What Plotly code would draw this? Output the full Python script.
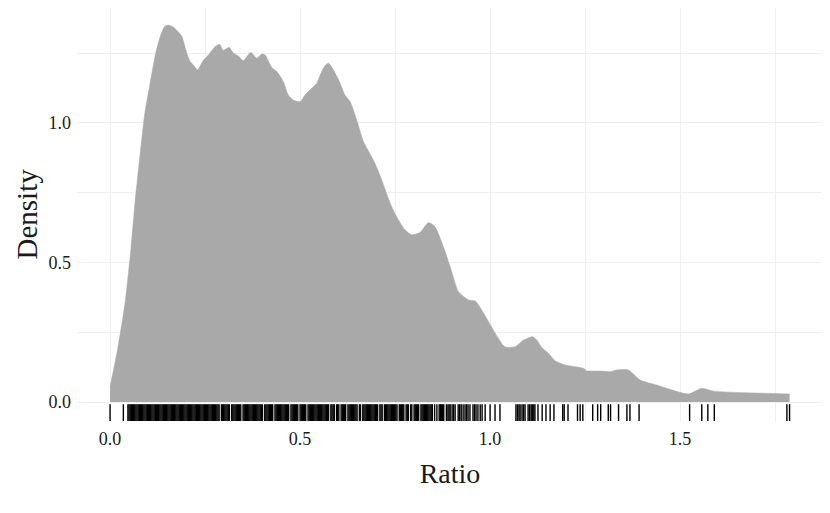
import plotly.graph_objects as go

# Density curve
ratio_x = [0, 0.02, 0.04, 0.055, 0.066, 0.08, 0.092, 0.105, 0.12, 0.132, 0.143, 0.153, 0.165, 0.175,
           0.189, 0.202, 0.211, 0.224, 0.230, 0.246, 0.259, 0.276, 0.288, 0.298, 0.313, 0.325, 0.338,
           0.351, 0.370, 0.386, 0.399, 0.408, 0.425, 0.439, 0.456, 0.469, 0.482, 0.5, 0.513, 0.535,
           0.544, 0.553, 0.565, 0.575, 0.588, 0.603, 0.618, 0.632, 0.649, 0.667, 0.693, 0.711, 0.741,
           0.760, 0.776, 0.794, 0.816, 0.838, 0.855, 0.877, 0.895, 0.917, 0.943, 0.961, 0.978, 0.996,
           1.022, 1.039, 1.066, 1.088, 1.112, 1.123, 1.136, 1.154, 1.171, 1.197, 1.246, 1.254, 1.289,
           1.316, 1.333, 1.364, 1.395, 1.438, 1.522, 1.557, 1.588, 1.788]
density_y = [0.055, 0.19, 0.36, 0.55, 0.72, 0.90, 1.04, 1.14, 1.25, 1.31, 1.345, 1.351, 1.345, 1.333,
             1.31, 1.25, 1.22, 1.20, 1.19, 1.226, 1.244, 1.273, 1.282, 1.26, 1.271, 1.25, 1.24,
             1.223, 1.253, 1.232, 1.247, 1.244, 1.20, 1.184, 1.148, 1.10, 1.082, 1.076, 1.10, 1.13,
             1.142, 1.172, 1.205, 1.214, 1.19, 1.15, 1.10, 1.076, 1.011, 0.933, 0.867, 0.81, 0.70,
             0.65, 0.617, 0.599, 0.608, 0.643, 0.628, 0.557, 0.485, 0.395, 0.366, 0.362, 0.33, 0.288,
             0.228, 0.198, 0.198, 0.222, 0.234, 0.222, 0.195, 0.174, 0.148, 0.133, 0.121, 0.112, 0.111,
             0.109, 0.115, 0.115, 0.079, 0.061, 0.029, 0.049, 0.039, 0.029]

rug_values = [
    0.0, 0.035,
    0.047, 0.050, 0.053, 0.056, 0.059, 0.062, 0.065, 0.068, 0.071, 0.074, 0.077, 0.080, 0.083, 0.086,
    0.089, 0.092, 0.095, 0.098,
    0.101, 0.104, 0.107, 0.110, 0.113, 0.116, 0.119, 0.122, 0.125, 0.128, 0.131, 0.134, 0.137, 0.140,
    0.143, 0.146, 0.149, 0.152, 0.155, 0.158, 0.161, 0.164, 0.167, 0.170, 0.173, 0.176, 0.179, 0.182,
    0.185, 0.188, 0.191, 0.194, 0.197,
    0.200, 0.203, 0.206, 0.209, 0.212, 0.215, 0.218, 0.221, 0.224, 0.227, 0.230, 0.233, 0.236, 0.239,
    0.242, 0.245, 0.248, 0.251, 0.254, 0.257, 0.260, 0.263, 0.266, 0.269, 0.272, 0.275, 0.278, 0.281,
    0.284, 0.287, 0.293, 0.296, 0.299,
    0.302, 0.305, 0.308, 0.311, 0.314, 0.320, 0.323, 0.326, 0.329, 0.332, 0.335, 0.338, 0.341, 0.344,
    0.350, 0.353, 0.356, 0.359, 0.362, 0.365, 0.368, 0.371, 0.374, 0.377, 0.380, 0.383, 0.386, 0.389,
    0.392, 0.395, 0.398,
    0.401, 0.407, 0.410, 0.413, 0.416, 0.419, 0.422, 0.425, 0.428, 0.434, 0.437, 0.440, 0.443, 0.446,
    0.449, 0.452, 0.455, 0.458, 0.461, 0.464, 0.467, 0.470, 0.476, 0.479, 0.482, 0.485, 0.488, 0.491,
    0.494, 0.500,
    0.503, 0.506, 0.509, 0.512, 0.515, 0.521, 0.524, 0.527, 0.530, 0.533, 0.536, 0.539, 0.542, 0.545,
    0.548, 0.551, 0.554, 0.557, 0.560, 0.563, 0.566, 0.569, 0.572, 0.575, 0.581, 0.584, 0.587, 0.590,
    0.596, 0.599,
    0.602, 0.608, 0.611, 0.614, 0.617, 0.620, 0.626, 0.629, 0.632, 0.635, 0.638, 0.641, 0.644, 0.647,
    0.650, 0.656, 0.659, 0.665, 0.668, 0.671, 0.674, 0.677, 0.680, 0.683, 0.686, 0.689, 0.692, 0.695,
    0.698,
    0.701, 0.704, 0.710, 0.713, 0.716, 0.722, 0.725, 0.728, 0.731, 0.734, 0.737, 0.740, 0.743, 0.746,
    0.749, 0.752, 0.755, 0.761, 0.764, 0.767, 0.770, 0.773, 0.779, 0.782, 0.785, 0.791, 0.794, 0.800,
    0.803, 0.806, 0.809, 0.812, 0.818, 0.821, 0.824, 0.827, 0.830, 0.833, 0.836, 0.839, 0.842, 0.845,
    0.848, 0.854, 0.860, 0.866, 0.869, 0.872, 0.875, 0.878,
    0.885, 0.889, 0.892, 0.895, 0.900, 0.904, 0.908, 0.916, 0.920, 0.924, 0.929, 0.934, 0.938, 0.942,
    0.947, 0.955, 0.959, 0.963, 0.968, 0.974, 0.979, 0.987, 1.0, 1.013, 1.026, 1.068, 1.072, 1.076,
    1.079, 1.084, 1.088, 1.092, 1.100, 1.104, 1.108, 1.111, 1.115, 1.118, 1.126, 1.137, 1.147, 1.158,
    1.168, 1.191, 1.195, 1.205, 1.230, 1.237, 1.244, 1.270, 1.283, 1.291, 1.311, 1.317, 1.338, 1.360,
    1.368, 1.392, 1.525, 1.557, 1.573, 1.590, 1.781, 1.788,
]

x_ticks = [0.0, 0.5, 1.0, 1.5]
x_tick_labels = ["0.0", "0.5", "1.0", "1.5"]
y_ticks = [0.0, 0.5, 1.0]
y_tick_labels = ["0.0", "0.5", "1.0"]

FONT = "Liberation Serif"
GRID = "#f0f0f0"

fig = go.Figure()
fig.add_trace(go.Scatter(
    x=ratio_x, y=density_y, mode="lines", fill="tozeroy",
    line=dict(color="#a9a9a9", width=0.5, shape="spline", smoothing=0.6),
    fillcolor="#a9a9a9", hoverinfo="skip", showlegend=False,
))
fig.add_trace(go.Scatter(
    x=rug_values, y=[-0.043] * len(rug_values), mode="markers",
    marker=dict(symbol="line-ns", size=14, line=dict(color="black", width=1.4)),
    hoverinfo="x", showlegend=False,
))

# page has an 8px body margin, so the figure is offset by 8px
L, R = 69, 7
W = 822
fig.update_layout(
    width=W, height=505,
    margin=dict(l=L, r=R, t=0, b=92),
    paper_bgcolor="white", plot_bgcolor="white",
    font=dict(family=FONT, color="#1a1a1a", size=18),
    annotations=[dict(
        text="Density", textangle=-90, xref="paper", yref="paper",
        x=-L / (W - L - R), y=0.5, xanchor="left", yanchor="middle",
        showarrow=False, font=dict(size=29, family=FONT, color="#1a1a1a"),
    )],
)
fig.update_xaxes(
    range=[-0.087, 1.876], tickvals=x_ticks, ticktext=x_tick_labels,
    showgrid=True, gridcolor=GRID, gridwidth=1, zeroline=False, showline=False,
    minor=dict(dtick=0.25, tick0=0, showgrid=True, gridcolor=GRID, gridwidth=1),
    title=dict(text="Ratio", font=dict(size=28, family=FONT), standoff=15),
    tickfont=dict(size=18, family=FONT, color="#1a1a1a"),
    ticks="", ticklabelstandoff=5, automargin=False,
)
fig.update_yaxes(
    range=[-0.068, 1.412], tickvals=y_ticks, ticktext=y_tick_labels,
    showgrid=True, gridcolor=GRID, gridwidth=1, zeroline=False, showline=False,
    minor=dict(dtick=0.25, tick0=0, showgrid=True, gridcolor=GRID, gridwidth=1),
    tickfont=dict(size=18, family=FONT, color="#1a1a1a"),
    ticks="", ticklabelstandoff=5, automargin=False,
)

fig.write_html("out.html")
